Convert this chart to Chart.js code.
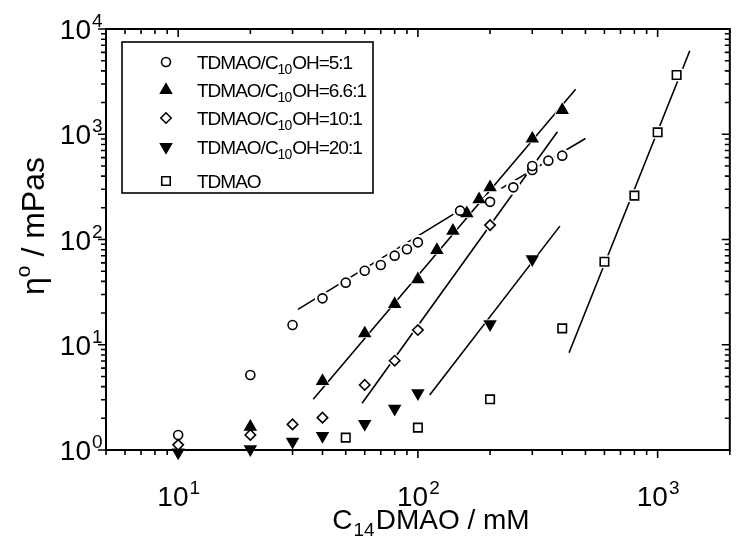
<!DOCTYPE html>
<html>
<head>
<meta charset="utf-8">
<script src="https://cdn.jsdelivr.net/npm/chart.js@4"></script>
<style>
  body { margin: 0; background: #fff; }
  #wrap { width: 739px; height: 538px; }
</style>
</head>
<body>
<div id="wrap"><canvas id="chart" width="739" height="538"></canvas></div>
<script>
// TDMAO/C10OH = 5:1 (open circles)
const c5X = [10, 20, 30, 40, 50, 60, 70, 80, 90, 100, 150, 200, 250, 300, 300, 350, 400];
const c5Y = [1.39, 5.16, 15.4, 27.6, 38.9, 50.5, 57.3, 70.2, 80.7, 94.0, 188, 228, 313, 457, 499, 561, 626];
// 6.6:1 (filled up triangles)
const c66X = [20, 40, 60, 80, 100, 120, 140, 160, 180, 200, 300, 400];
const c66Y = [1.66, 4.52, 12.8, 24.4, 41.9, 79.5, 121, 177, 241, 313, 907, 1700];
// 10:1 (open diamonds)
const c10X = [10, 20, 30, 40, 60, 80, 100, 200];
const c10Y = [1.12, 1.39, 1.75, 2.03, 4.15, 7.05, 13.8, 137];
// 20:1 (filled down triangles)
const c20X = [10, 20, 30, 40, 60, 80, 100, 200, 300];
const c20Y = [0.95, 1.02, 1.2, 1.36, 1.77, 2.47, 3.46, 15.7, 64.9];
// pure TDMAO (open squares)
const sqX = [50, 100, 200, 400, 600, 800, 1000, 1200];
const sqY = [1.31, 1.63, 3.03, 14.3, 61.5, 261, 1043, 3654];

// fitted power-law lines, end points
const fitC5aX = [31.6, 150], fitC5aY = [21.7, 190];
const fitC5bX = [223, 500], fitC5bY = [306, 912];
const fitC66X = [36.6, 455], fitC66Y = [3.03, 2673];
const fitC10X = [58.5, 382], fitC10Y = [2.78, 1058];
const fitC20X = [112, 391], fitC20Y = [3.33, 134];
const fitSqX = [427, 1362], fitSqY = [8.4, 6220];

const legendLabels = ['5:1', '6.6:1', '10:1', '20:1', null];
const xDecades = [1, 2, 3];
const yDecades = [0, 1, 2, 3, 4];

const pts = (xs, ys) => xs.map((x, i) => ({ x: x, y: ys[i] }));

const markers = [
    { data: pts(c5X, c5Y), style: 'circle', r: 4.5, fill: '#fff', rot: 0 },
    { data: pts(c66X, c66Y), style: 'triangle', r: 6.2, fill: '#000', rot: 0 },
    { data: pts(c10X, c10Y), style: 'rectRot', r: 5.2, fill: '#fff', rot: 0 },
    { data: pts(c20X, c20Y), style: 'triangle', r: 6.2, fill: '#000', rot: 180 },
    { data: pts(sqX, sqY), style: 'rect', r: 6, fill: '#fff', rot: 0 }
];

const fits = [
    pts(fitC5aX, fitC5aY), pts(fitC5bX, fitC5bY), pts(fitC66X, fitC66Y),
    pts(fitC10X, fitC10Y), pts(fitC20X, fitC20Y), pts(fitSqX, fitSqY)
];

const datasets = [];
fits.forEach(d => datasets.push({
    type: 'line', data: d, borderColor: '#000', borderWidth: 1.6,
    pointRadius: 0, fill: false, order: 3
}));
// white halos so the lines break around the symbols
markers.forEach(m => datasets.push({
    type: 'scatter', data: m.data, pointStyle: m.style, rotation: m.rot,
    pointRadius: m.r + 3, backgroundColor: '#fff', borderColor: '#fff',
    borderWidth: 0, clip: false, order: 2
}));
markers.forEach(m => datasets.push({
    type: 'scatter', data: m.data, pointStyle: m.style, rotation: m.rot,
    pointRadius: m.r, backgroundColor: m.fill, borderColor: '#000',
    borderWidth: 1.6, clip: false, order: 1
}));

const FONT = "'Liberation Sans', Arial, sans-serif";

function powLabel(ctx, exp, x, y, align) {
    ctx.font = '28px ' + FONT;
    const w1 = ctx.measureText('10').width;
    ctx.font = '19px ' + FONT;
    const w2 = ctx.measureText(String(exp)).width;
    let left = align === 'right' ? x - w1 : x - (w1 + w2) / 2;
    ctx.textAlign = 'left';
    ctx.font = '28px ' + FONT;
    ctx.fillText('10', left, y);
    ctx.font = '19px ' + FONT;
    ctx.fillText(String(exp), left + w1 + 1, y - 12);
}

function minorValues(min, max) {
    const out = [];
    for (let e = -1; e <= 5; e++) {
        for (let k = 1; k <= 9; k++) {
            const v = k * Math.pow(10, e);
            if (v >= min * 0.999 && v <= max * 1.001) out.push({ v: v, major: k === 1 });
        }
    }
    return out;
}

const framePlugin = {
    id: 'frame',
    afterDraw(chart) {
        const ctx = chart.ctx;
        const a = chart.chartArea;
        const xs = chart.scales.x, ys = chart.scales.y;
        ctx.save();
        ctx.strokeStyle = '#000';
        ctx.fillStyle = '#000';
        ctx.lineWidth = 2;
        ctx.strokeRect(a.left, a.top, a.right - a.left, a.bottom - a.top);

        ctx.lineWidth = 1.6;
        ctx.beginPath();
        minorValues(xs.min, xs.max).forEach(t => {
            const px = xs.getPixelForValue(t.v);
            const len = t.major ? 8 : 5;
            ctx.moveTo(px, a.bottom); ctx.lineTo(px, a.bottom + len);
            ctx.moveTo(px, a.top); ctx.lineTo(px, a.top + len);
        });
        minorValues(ys.min, ys.max).forEach(t => {
            const py = ys.getPixelForValue(t.v);
            const len = t.major ? 8 : 5;
            ctx.moveTo(a.left, py); ctx.lineTo(a.left - len, py);
            ctx.moveTo(a.right, py); ctx.lineTo(a.right - len, py);
        });
        ctx.stroke();

        ctx.textBaseline = 'alphabetic';
        xDecades.forEach(e => {
            powLabel(ctx, e, xs.getPixelForValue(Math.pow(10, e)), a.bottom + 56, 'center');
        });
        yDecades.forEach(e => {
            powLabel(ctx, e, a.left - 15, ys.getPixelForValue(Math.pow(10, e)) + 10, 'right');
        });

        // x title: C14DMAO / mM
        ctx.font = '28px ' + FONT;
        const wC = ctx.measureText('C').width;
        const wRest = ctx.measureText('DMAO / mM').width;
        ctx.font = '19px ' + FONT;
        const wSub = ctx.measureText('14').width;
        let tx = 430 - (wC + wSub + wRest) / 2;
        const ty = 529;
        ctx.font = '28px ' + FONT;
        ctx.fillText('C', tx, ty);
        ctx.font = '19px ' + FONT;
        ctx.fillText('14', tx + wC + 1, ty + 7);
        ctx.font = '28px ' + FONT;
        ctx.fillText('DMAO / mM', tx + wC + wSub + 2, ty);

        // y title: eta^o / mPas
        ctx.translate(44, 226);
        ctx.rotate(-Math.PI / 2);
        ctx.font = '32px ' + FONT;
        const wEta = ctx.measureText('\u03b7').width;
        const wTail = ctx.measureText(' / mPas').width;
        ctx.font = '21px ' + FONT;
        const wO = ctx.measureText('o').width;
        let yx = -(wEta + wO + wTail) / 2;
        ctx.font = '32px ' + FONT;
        ctx.fillText('\u03b7', yx, 0);
        ctx.font = '21px ' + FONT;
        ctx.fillText('o', yx + wEta, -14);
        ctx.font = '32px ' + FONT;
        ctx.fillText(' / mPas', yx + wEta + wO, 0);
        ctx.restore();

        // legend box
        ctx.save();
        ctx.strokeStyle = '#000';
        ctx.fillStyle = '#000';
        ctx.lineWidth = 1.6;
        ctx.strokeRect(122, 42, 251, 151);
        const rowY = [62, 90, 118, 147, 181];
        markers.forEach((m, i) => {
            const y = rowY[i];
            ctx.fillStyle = m.fill;
            ctx.strokeStyle = '#000';
            ctx.lineWidth = 1.6;
            Chart.helpers.drawPoint(ctx, { pointStyle: m.style, rotation: m.rot, radius: m.r, borderWidth: 1.6 }, 166, y);
            ctx.fillStyle = '#000';
            ctx.textAlign = 'left';
            ctx.letterSpacing = '-1px';
            const base = y + 7;
            let lx = 197;
            ctx.font = '19px ' + FONT;
            if (legendLabels[i] === null) {
                ctx.fillText('TDMAO', lx, base);
            } else {
                ctx.fillText('TDMAO/C', lx, base);
                lx += ctx.measureText('TDMAO/C').width;
                ctx.font = '14px ' + FONT;
                ctx.fillText('10', lx, base + 5);
                lx += ctx.measureText('10').width + 1;
                ctx.font = '19px ' + FONT;
                ctx.fillText('OH=' + legendLabels[i], lx, base);
            }
            ctx.letterSpacing = '0px';
        });
        ctx.restore();
    }
};

new Chart(document.getElementById('chart'), {
    data: { datasets: datasets },
    options: {
        responsive: false,
        animation: false,
        layout: { padding: { left: 106, top: 29, right: 1, bottom: 88 } },
        plugins: { legend: { display: false }, tooltip: { enabled: false } },
        scales: {
            x: { type: 'logarithmic', min: 5, max: 2000, display: false },
            y: { type: 'logarithmic', min: 1, max: 10000, display: false }
        }
    },
    plugins: [framePlugin]
});
</script>
</body>
</html>
